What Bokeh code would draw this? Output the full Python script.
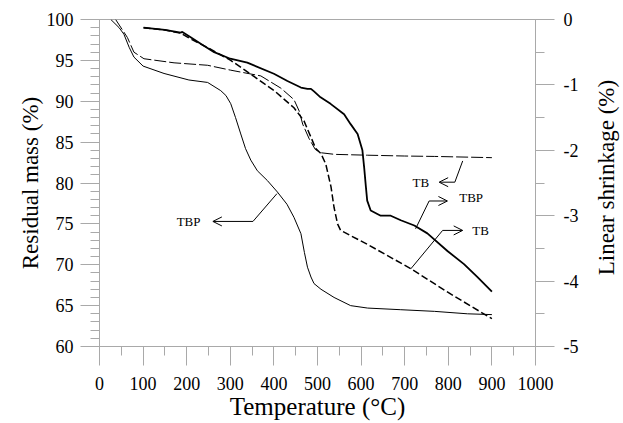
import math
from bokeh.plotting import figure
from bokeh.layouts import row
from bokeh.models import (Range1d, LinearAxis, SingleIntervalTicker, Arrow, OpenHead,
                          CustomJSTickFormatter)
from bokeh.core.properties import value
from bokeh.embed import file_html
from bokeh.resources import INLINE

# ---------------- data ----------------
# TGA residual mass (left axis, %)
tga_tbp_T = [26, 45, 56, 68, 79, 100, 148, 205, 248, 278, 290, 301, 312, 324, 335, 347, 362, 385, 408, 430, 446, 462, 470, 477, 485, 492, 508, 538, 576, 615, 691, 768, 844, 900]
tga_tbp_m = [100, 99.0, 98.2, 96.6, 95.4, 94.3, 93.4, 92.6, 92.3, 91.3, 90.7, 89.7, 88.0, 86.0, 84.2, 82.8, 81.5, 80.3, 78.9, 77.4, 75.8, 73.8, 71.5, 69.7, 68.5, 67.7, 67.0, 66.0, 65.0, 64.7, 64.5, 64.3, 64.0, 63.9]

tga_tb_T = [37, 64, 79, 102, 171, 248, 301, 370, 416, 446, 458, 466, 481, 495, 508, 540, 615, 700, 768, 900]
tga_tb_m = [100, 97.8, 96.0, 95.2, 94.7, 94.4, 93.8, 93.1, 91.6, 90.2, 88.8, 87.2, 85.4, 84.1, 83.7, 83.5, 83.4, 83.3, 83.25, 83.1]

# Linear shrinkage (right axis, %)
shr_tbp_T = [101, 150, 186, 190, 210, 233, 263, 300, 339, 400, 431, 462, 477, 485, 492, 507, 530, 561, 576, 592, 603, 607, 611, 614, 622, 645, 668, 691, 722, 752, 798, 836, 867, 900]
shr_tbp_s = [-0.125, -0.16, -0.2, -0.19, -0.275, -0.375, -0.5, -0.6, -0.66, -0.83, -0.94, -1.04, -1.06, -1.06, -1.10, -1.19, -1.29, -1.45, -1.6, -1.75, -2.0, -2.26, -2.56, -2.77, -2.92, -3.0, -3.0, -3.07, -3.15, -3.27, -3.54, -3.74, -3.94, -4.16]

shr_tb_T = [101, 150, 186, 210, 248, 301, 355, 401, 446, 469, 485, 496, 508, 519, 531, 538, 546, 553, 615, 714, 806, 875, 900]
shr_tb_s = [-0.125, -0.16, -0.21, -0.3, -0.43, -0.625, -0.875, -1.09, -1.35, -1.55, -1.8, -1.975, -2.05, -2.21, -2.56, -2.875, -3.125, -3.225, -3.44, -3.81, -4.2, -4.475, -4.575]

# annotations (left-axis data coordinates)
ann_text = ["TBP", "TB", "TBP", "TB"]
ann_tx = [177, 718, 825, 855]
ann_ty = [75.3, 80.1, 78.2, 74.2]
lead_x0 = [407, 833, 725, 714]
lead_y0 = [78.7, 82.7, 74.4, 69.5]
lead_x1 = [352, 815, 756, 787]
lead_y1 = [75.3, 80.1, 77.8, 74.2]
tip_x = [260, 779, 798, 833]
tip_y = [75.3, 80.1, 77.8, 74.2]

right_title = ["Linear shrinkage (%)"]

# ---------------- figure ----------------
FONT = "Liberation Serif"
GREY = "#a9a9a9"

p = figure(width=582, height=422, output_backend="svg", toolbar_location=None,
           x_range=Range1d(0, 1000), y_range=Range1d(60, 100),
           min_border_left=99, min_border_right=47, min_border_top=19, min_border_bottom=76)
p.extra_y_ranges = {"shrink": Range1d(-5, 0)}
p.grid.visible = False
p.outline_line_color = GREY
p.background_fill_color = "white"
p.border_fill_color = "white"

right = LinearAxis(y_range_name="shrink")
p.add_layout(right, "right")

def style(ax, interval, nminor, title, title_size):
    ax.ticker = SingleIntervalTicker(interval=interval, num_minor_ticks=nminor)
    ax.axis_line_color = GREY
    ax.major_tick_line_color = GREY
    ax.minor_tick_line_color = GREY
    ax.major_tick_in = 0
    ax.major_tick_out = 19
    ax.minor_tick_in = 0
    ax.minor_tick_out = 9
    ax.major_label_text_font = FONT
    ax.major_label_text_font_size = "18px"
    ax.major_label_text_color = "black"
    ax.axis_label = title
    ax.axis_label_text_font = FONT
    ax.axis_label_text_font_size = title_size
    ax.axis_label_text_font_style = "normal"
    ax.axis_label_text_color = "black"

style(p.xaxis[0], 100, 2, "Temperature (°C)", "25px")
style(p.yaxis[0], 5, 5, "Residual mass (%)", "23px")
style(right, 1, 2, None, "23px")
right.formatter = CustomJSTickFormatter(code="return String(tick);")

p.xaxis[0].major_label_standoff = 11
p.xaxis[0].axis_label_standoff = 0
p.yaxis[0].major_label_standoff = 7
p.yaxis[0].axis_label_standoff = 1
right.major_label_standoff = 9

# curves
p.line(tga_tbp_T, tga_tbp_m, line_color="black", line_width=1)
p.line(tga_tb_T, tga_tb_m, line_color="black", line_width=1, line_dash="12 3")
p.line(shr_tbp_T, shr_tbp_s, line_color="black", line_width=1.8, y_range_name="shrink")
p.line(shr_tb_T, shr_tb_s, line_color="black", line_width=1.5, line_dash="7 3", y_range_name="shrink")

# annotations
p.segment(lead_x0, lead_y0, lead_x1, lead_y1, line_color="black", line_width=1)
for i in range(len(ann_text)):
    p.add_layout(Arrow(end=OpenHead(size=9, line_color="black", line_width=1),
                       x_start=lead_x1[i], y_start=lead_y1[i], x_end=tip_x[i], y_end=tip_y[i],
                       line_color="black", line_width=1))
p.text(ann_tx, ann_ty, text=ann_text, text_font=value(FONT), text_font_size="13px",
       text_baseline="middle", text_align="left", text_color="black")

# narrow strip holding the right-hand axis title (reads bottom-to-top)
t = figure(width=40, height=422, output_backend="svg", toolbar_location=None,
           x_range=Range1d(0, 40), y_range=Range1d(0, 422),
           x_axis_type=None, y_axis_type=None,
           min_border_left=0, min_border_right=0, min_border_top=0, min_border_bottom=0)
t.outline_line_color = None
t.grid.visible = False
t.background_fill_color = "white"
t.border_fill_color = "white"
t.text([24], [218], text=right_title, angle=math.pi / 2,
       text_font=value(FONT), text_font_size="23px",
       text_align="center", text_baseline="middle", text_color="black")

open("out.html", "w").write(file_html(row(p, t), INLINE))
